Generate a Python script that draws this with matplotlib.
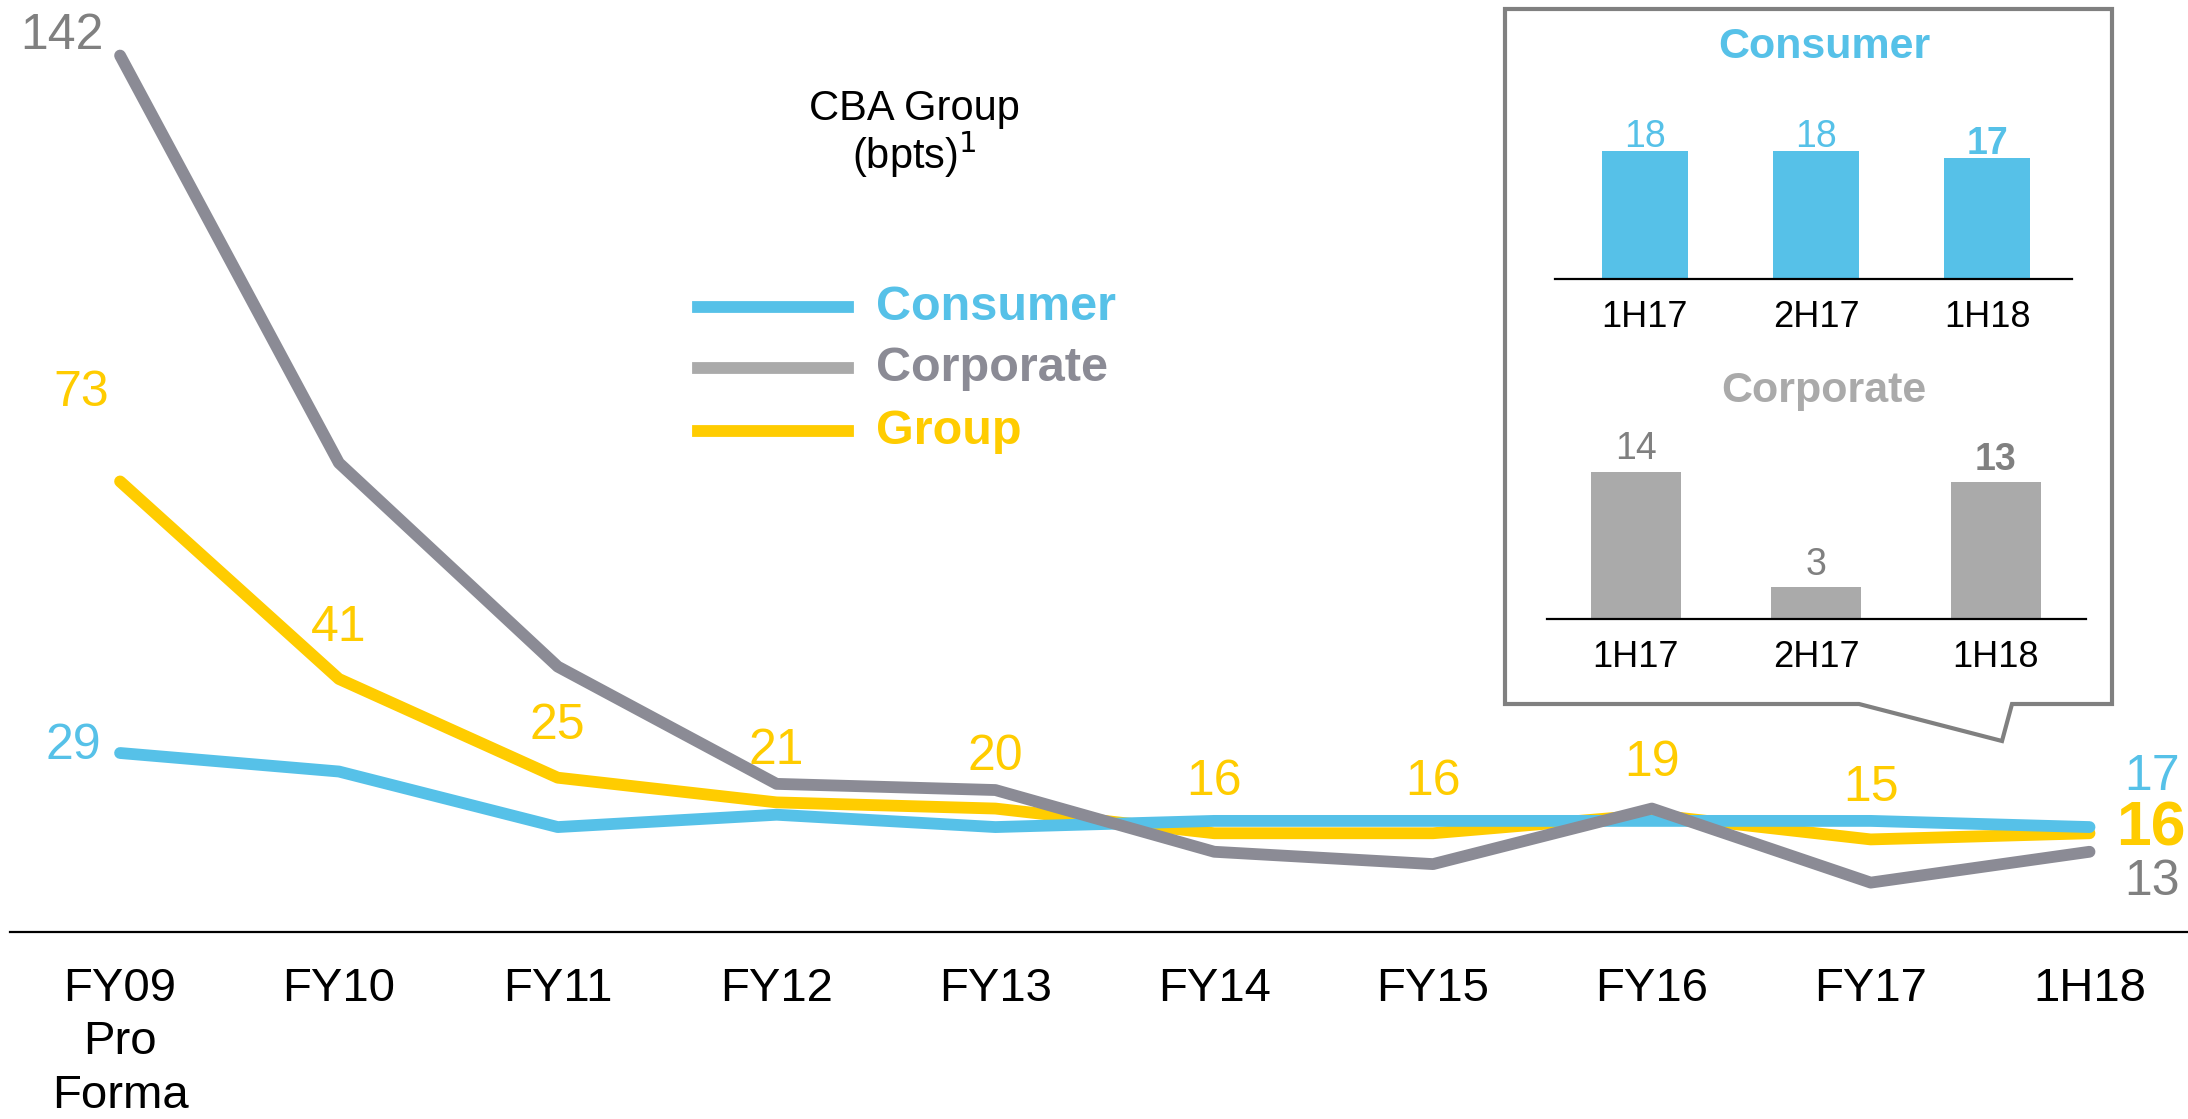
import numpy as np
import matplotlib
matplotlib.use("Agg")
import matplotlib.pyplot as plt
from matplotlib.patches import Polygon

plt.rcParams['font.family'] = ['Liberation Sans', 'DejaVu Sans']

# данные
periods = ['FY09\nPro\nForma', 'FY10', 'FY11', 'FY12', 'FY13', 'FY14', 'FY15', 'FY16', 'FY17', '1H18']
consumer = [29, 26, 17, 19, 17, 18, 18, 18, 18, 17]
corporate = [142, 76, 43, 24, 23, 13, 11, 20, 8, 13]
group = [73, 41, 25, 21, 20, 16, 16, 19, 15, 16]

half_years = ['1H17', '2H17', '1H18']
consumer_half = [18, 18, 17]
corporate_half = [14, 3, 13]

BLUE = '#56C1E8'
GREY_LINE = '#8B8B95'
GREY_TEXT = '#808080'
GREY_BAR = '#AAAAAA'
YELLOW = '#FFCC00'

W, H = 2188, 1119
fig = plt.figure(figsize=(W / 100, H / 100), dpi=100)


def fx(px):
    return px / W


def fy(py):
    return 1 - py / H


# основной график
ax = fig.add_axes([fx(10), fy(932), fx(2188 - 10), 932 / H])
x = np.arange(len(periods))
for vals, col in [(group, YELLOW), (consumer, BLUE), (corporate, GREY_LINE)]:
    ax.plot(x, vals, color=col, lw=8.5, solid_capstyle='round', solid_joinstyle='round')
ax.set_xlim(-0.503, 9.45)
ax.set_ylim(0, 151)
for s in ['top', 'right', 'left']:
    ax.spines[s].set_visible(False)
ax.spines['bottom'].set_linewidth(1.6)
ax.set_yticks([])
ax.set_xticks(x)
ax.set_xticklabels(periods, fontsize=34, linespacing=1.28)
ax.tick_params(axis='x', length=0, pad=25)

# подписи Group
for i in range(1, 9):
    ax.annotate(str(group[i]), (i, group[i]), xytext=(0, 37), textcoords='offset points',
                ha='center', va='center', fontsize=36, color=YELLOW)
ax.annotate(str(group[0]), (0, group[0]), xytext=(-8, 64), textcoords='offset points',
            ha='right', va='center', fontsize=36, color=YELLOW)
ax.annotate(str(corporate[0]), (0, corporate[0]), xytext=(-12, 14), textcoords='offset points',
            ha='right', va='center', fontsize=36, color=GREY_TEXT)
ax.annotate(str(consumer[0]), (0, consumer[0]), xytext=(-14, 5), textcoords='offset points',
            ha='right', va='center', fontsize=36, color=BLUE)

# подписи справа
ax.annotate(str(consumer[-1]), (9, consumer[-1]), xytext=(45, 36), textcoords='offset points',
            ha='center', va='center', fontsize=36, color=BLUE)
ax.annotate(str(group[-1]), (9, group[-1]), xytext=(44, 3), textcoords='offset points',
            ha='center', va='center', fontsize=45, color=YELLOW, fontweight='bold')
ax.annotate(str(corporate[-1]), (9, corporate[-1]), xytext=(45, -22), textcoords='offset points',
            ha='center', va='center', fontsize=36, color=GREY_TEXT)

# заголовок
fig.text(fx(914), fy(109), 'CBA Group', ha='center', va='center', fontsize=30)
fig.text(fx(914), fy(155), '(bpts)$^1$', ha='center', va='center', fontsize=30)

# легенда
leg_y = [307, 368, 431]
leg_names = ['Consumer', 'Corporate', 'Group']
leg_line = [BLUE, GREY_BAR, YELLOW]
leg_text = [BLUE, GREY_LINE, YELLOW]
for yy, name, lc, tc in zip(leg_y, leg_names, leg_line, leg_text):
    fig.add_artist(plt.Line2D([fx(698), fx(848)], [fy(yy), fy(yy)], color=lc, lw=8.5))
    fig.text(fx(876), fy(yy), name, ha='left', va='center', fontsize=35,
             fontweight='bold', color=tc)

# врезка
box = [(1505, 9), (2112, 9), (2112, 704), (2012, 704), (2002, 741), (1859, 704), (1505, 704)]
fig.add_artist(Polygon([(fx(a), fy(b)) for a, b in box], closed=True, fill=False,
                       edgecolor='#808080', lw=3, transform=fig.transFigure))

fig.text(fx(1824), fy(47), 'Consumer', ha='center', va='center', fontsize=31,
         fontweight='bold', color=BLUE)
fig.text(fx(1824), fy(391), 'Corporate', ha='center', va='center', fontsize=31,
         fontweight='bold', color=GREY_BAR)

ax1 = fig.add_axes([fx(1555), fy(279), fx(517), 178 / H])
ax1.bar(range(3), consumer_half, width=0.5, color=BLUE)
ax1.set_xlim(-0.526, 2.497)
ax1.set_ylim(0, 25)
for i, v in enumerate(consumer_half):
    ax1.annotate(str(v), (i, v), xytext=(0, 3), textcoords='offset points',
                 ha='center', va='baseline', fontsize=27, color=BLUE,
                 fontweight='bold' if i == 2 else 'normal')

ax2 = fig.add_axes([fx(1547), fy(619), fx(539), 199 / H])
ax2.bar(range(3), corporate_half, width=0.5, color=GREY_BAR)
ax2.set_xlim(-0.494, 2.5)
ax2.set_ylim(0, 18.95)
for i, v in enumerate(corporate_half):
    ax2.annotate(str(v), (i, v), xytext=(0, 9), textcoords='offset points',
                 ha='center', va='baseline', fontsize=27, color=GREY_TEXT,
                 fontweight='bold' if i == 2 else 'normal')

for a in (ax1, ax2):
    for s in ['top', 'right', 'left']:
        a.spines[s].set_visible(False)
    a.spines['bottom'].set_linewidth(1.6)
    a.set_yticks([])
    a.set_xticks(range(3))
    a.set_xticklabels(half_years, fontsize=26)
    a.tick_params(axis='x', length=0, pad=15)
    a.patch.set_alpha(0)

fig.savefig('out.png', dpi=100)
